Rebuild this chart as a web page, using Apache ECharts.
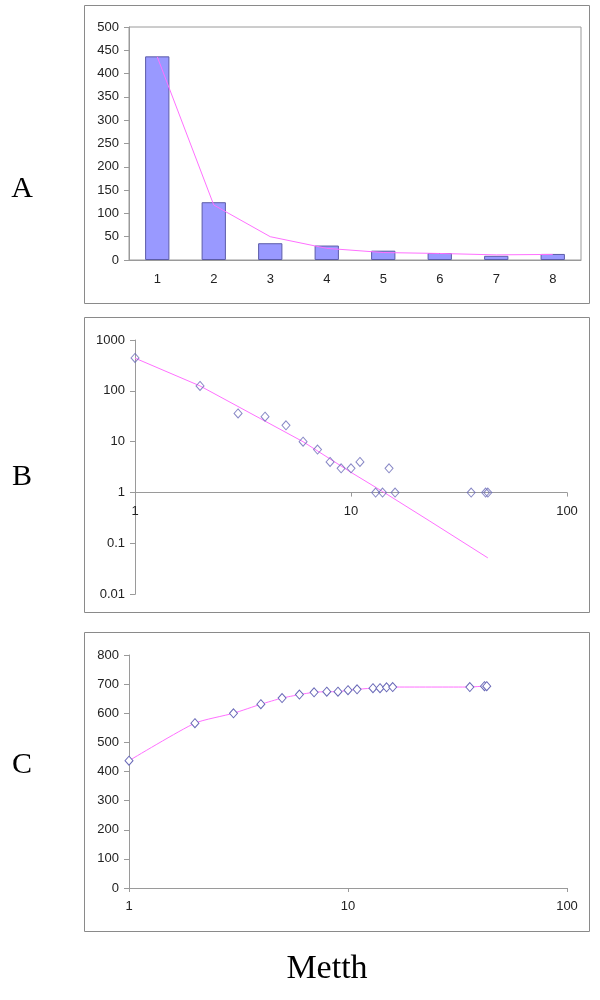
<!DOCTYPE html>
<html><head><meta charset="utf-8">
<script src="https://cdn.jsdelivr.net/npm/echarts@6/dist/echarts.min.js"></script>
<style>html,body{margin:0;padding:0;background:#fff}#c{width:600px;height:1000px}</style>
</head><body><div id="c"></div>
<script>
// Panel A
const barCategories = ['1','2','3','4','5','6','7','8'];
const barValues = [437,124,36,31,20,15,9,13];
const barLineValues = [436,118,50,25,16,14,11,12];
// Panel B
const pointX = [1,2,3,4,5,6,7,8,9,10,11,13,14,15,16,36,42,43];
const countY = [445,125,36,31,21,10,7,4,3,3,4,1,1,3,1,1,1,1];
const trendX = [1,2,6,10,14,23,43];
const trendY = [440,125,10,2.5,1.05,0.28,0.052];
// Panel C
const cumulativeY = [437,566,600,631,652,664,672,674,674,679,682,686,686,689,690,690,693,693];
const panelLetters = ['A','B','C'];
const bottomTitle = 'Metth';

const axisGray = '#9a9a9a';
const labelStyle = {color:'#222', fontFamily:'Liberation Sans, Arial, sans-serif', fontSize:13};
const pink = '#ff70ff';
const markerStroke = '#6a6ab8';
const fmt = v => String(+Number(v).toPrecision(3));

const chart = echarts.init(document.getElementById('c'), null, {renderer:'canvas'});
const gridBH = 254.3;
chart.setOption({
  animation:false,
  backgroundColor:'#fff',
  grid:[
    {left:129, top:27, width:452, height:233, show:true, borderColor:axisGray, borderWidth:1, backgroundColor:'transparent'},
    {left:135, top:340, width:432, height:gridBH},
    {left:129, top:655, width:438, height:233}
  ],
  xAxis:[
    {gridIndex:0, type:'category', data:barCategories, boundaryGap:true,
     axisLine:{lineStyle:{color:axisGray}}, axisTick:{lineStyle:{color:axisGray}, length:5},
     axisLabel:Object.assign({margin:13}, labelStyle), splitLine:{show:false}},
    {gridIndex:1, type:'log', logBase:10, min:1, max:100, offset:-gridBH*2/5,
     axisLine:{lineStyle:{color:axisGray}}, axisTick:{lineStyle:{color:axisGray}, length:4},
     axisLabel:Object.assign({margin:12, formatter:fmt}, labelStyle), splitLine:{show:false}, minorTick:{show:false}},
    {gridIndex:2, type:'log', logBase:10, min:1, max:100,
     axisLine:{lineStyle:{color:axisGray}}, axisTick:{lineStyle:{color:axisGray}, length:4},
     axisLabel:Object.assign({margin:12, formatter:fmt}, labelStyle), splitLine:{show:false}}
  ],
  yAxis:[
    {gridIndex:0, type:'value', min:0, max:500, interval:50,
     axisLine:{show:true, lineStyle:{color:axisGray}}, axisTick:{show:true, lineStyle:{color:axisGray}, length:5},
     axisLabel:Object.assign({margin:10}, labelStyle), splitLine:{show:false}},
    {gridIndex:1, type:'log', logBase:10, min:0.01, max:1000,
     axisLine:{show:true, lineStyle:{color:axisGray}}, axisTick:{show:true, lineStyle:{color:axisGray}, length:5},
     axisLabel:Object.assign({margin:10, formatter:fmt}, labelStyle), splitLine:{show:false}},
    {gridIndex:2, type:'value', min:0, max:800, interval:100,
     axisLine:{show:true, lineStyle:{color:axisGray}}, axisTick:{show:true, lineStyle:{color:axisGray}, length:5},
     axisLabel:Object.assign({margin:10}, labelStyle), splitLine:{show:false}}
  ],
  series:[
    {type:'bar', xAxisIndex:0, yAxisIndex:0, data:barValues, barWidth:'43%',
     itemStyle:{color:'#9999ff', borderColor:'#5c5ca8', borderWidth:1}},
    {type:'line', xAxisIndex:0, yAxisIndex:0, data:barLineValues, showSymbol:false, symbol:'none',
     lineStyle:{color:pink, width:1}, z:5},
    {type:'line', xAxisIndex:1, yAxisIndex:1, data:trendX.map((x,i)=>[x,trendY[i]]), symbol:'none',
     lineStyle:{color:pink, width:1}},
    {type:'scatter', xAxisIndex:1, yAxisIndex:1, data:pointX.map((x,i)=>[x,countY[i]]),
     symbol:'diamond', symbolSize:[8,9], itemStyle:{color:'rgba(255,255,255,0)', borderColor:markerStroke, borderWidth:1}, z:6},
    {type:'line', xAxisIndex:2, yAxisIndex:2, data:pointX.map((x,i)=>[x,cumulativeY[i]]),
     symbol:'diamond', symbolSize:[8,9], showAllSymbol:true, smooth:0.2,
     lineStyle:{color:pink, width:1}, itemStyle:{color:'#fff', borderColor:markerStroke, borderWidth:1}}
  ],
  graphic:[
    {type:'rect', shape:{x:84.5, y:5.5, width:505, height:298}, style:{fill:null, stroke:'#8a8a8a', lineWidth:1}, silent:true, z:-1},
    {type:'rect', shape:{x:84.5, y:317.5, width:505, height:295}, style:{fill:null, stroke:'#8a8a8a', lineWidth:1}, silent:true, z:-1},
    {type:'rect', shape:{x:84.5, y:632.5, width:505, height:299}, style:{fill:null, stroke:'#8a8a8a', lineWidth:1}, silent:true, z:-1},
    {type:'text', x:22, y:189, style:{text:panelLetters[0], font:'30px "Liberation Serif", serif', fill:'#000', textAlign:'center', textVerticalAlign:'middle'}},
    {type:'text', x:22, y:477, style:{text:panelLetters[1], font:'30px "Liberation Serif", serif', fill:'#000', textAlign:'center', textVerticalAlign:'middle'}},
    {type:'text', x:22, y:765, style:{text:panelLetters[2], font:'30px "Liberation Serif", serif', fill:'#000', textAlign:'center', textVerticalAlign:'middle'}},
    {type:'text', x:327, y:969, style:{text:bottomTitle, font:'34px "Liberation Serif", serif', fill:'#000', textAlign:'center', textVerticalAlign:'middle'}}
  ]
});
</script></body></html>
